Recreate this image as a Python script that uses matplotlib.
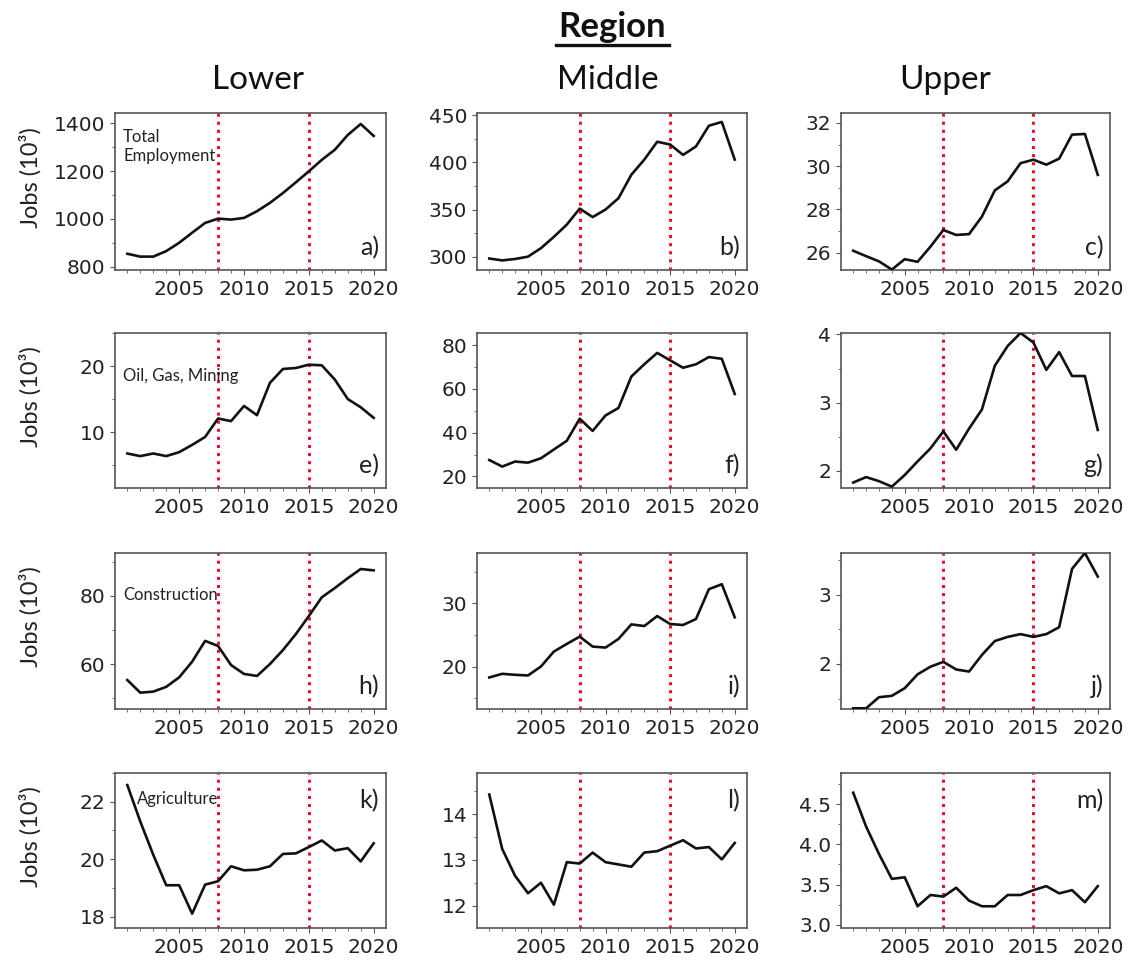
import matplotlib
matplotlib.use('Agg')
import matplotlib.pyplot as plt
from matplotlib.ticker import AutoMinorLocator, MultipleLocator

years = list(range(2001, 2021))

lower_total = [854, 842, 842, 865, 900, 942, 983, 1001, 997, 1004, 1032, 1067, 1108, 1153, 1199, 1247, 1289, 1351, 1397, 1347]
middle_total = [298, 296, 297.5, 300, 309, 321, 334, 351, 342, 350, 362, 387, 403, 422, 419, 408, 417, 439, 443, 403]
upper_total = [26.09, 25.84, 25.6, 25.22, 25.7, 25.58, 26.28, 27.05, 26.82, 26.86, 27.67, 28.88, 29.3, 30.14, 30.3, 30.07, 30.35, 31.46, 31.49, 29.6]
lower_oil = [6.8, 6.4, 6.8, 6.4, 7.0, 8.1, 9.3, 12.1, 11.7, 14.0, 12.6, 17.5, 19.6, 19.75, 20.25, 20.15, 18.0, 15.05, 13.8, 12.2]
middle_oil = [27.5, 24.5, 26.8, 26.3, 28.3, 32.3, 36.3, 46.4, 40.8, 47.9, 51.3, 65.7, 71.3, 76.5, 73.1, 69.7, 71.3, 74.6, 73.8, 57.7]
upper_oil = [1.83, 1.91, 1.85, 1.77, 1.94, 2.14, 2.33, 2.58, 2.31, 2.62, 2.90, 3.54, 3.83, 4.02, 3.88, 3.48, 3.74, 3.39, 3.39, 2.60]
lower_cons = [55.3, 51.6, 51.9, 53.3, 56.1, 60.7, 66.8, 65.3, 59.7, 57.1, 56.5, 60.0, 64.1, 68.8, 74.1, 79.6, 82.3, 85.2, 87.9, 87.5]
middle_cons = [18.26, 18.84, 18.68, 18.58, 20.0, 22.37, 23.58, 24.74, 23.16, 23.0, 24.37, 26.68, 26.42, 28.0, 26.74, 26.58, 27.53, 32.26, 33.05, 27.8]
upper_cons = [1.36, 1.36, 1.52, 1.54, 1.65, 1.85, 1.96, 2.03, 1.92, 1.89, 2.13, 2.33, 2.39, 2.43, 2.39, 2.43, 2.53, 3.37, 3.6, 3.26]
lower_ag = [22.58, 21.31, 20.15, 19.09, 19.09, 18.1, 19.11, 19.23, 19.75, 19.61, 19.63, 19.75, 20.18, 20.2, 20.42, 20.65, 20.3, 20.38, 19.92, 20.55]
middle_ag = [14.43, 13.24, 12.65, 12.27, 12.5, 12.02, 12.95, 12.92, 13.16, 12.95, 12.9, 12.85, 13.16, 13.19, 13.31, 13.43, 13.25, 13.28, 13.01, 13.37]
upper_ag = [4.64, 4.22, 3.88, 3.57, 3.59, 3.23, 3.37, 3.35, 3.46, 3.30, 3.23, 3.23, 3.37, 3.37, 3.43, 3.48, 3.39, 3.43, 3.28, 3.48]

regions = ["Lower", "Middle", "Upper"]
sectors = ["Total\nEmployment", "Oil, Gas, Mining", "Construction", "Agriculture"]
panel_labels = [["a)", "b)", "c)"], ["e)", "f)", "g)"], ["h)", "i)", "j)"], ["k)", "l)", "m)"]]
series = [[lower_total, middle_total, upper_total],
          [lower_oil, middle_oil, upper_oil],
          [lower_cons, middle_cons, upper_cons],
          [lower_ag, middle_ag, upper_ag]]
yticks = [[[800, 1000, 1200, 1400], [300, 350, 400, 450], [26, 28, 30, 32]],
          [[10, 20], [20, 40, 60, 80], [2, 3, 4]],
          [[60, 80], [20, 30], [2, 3]],
          [[18, 20, 22], [12, 13, 14], [3.0, 3.5, 4.0, 4.5]]]
ylims = [[(786, 1443), (285.8, 452.5), (25.2, 32.46)],
         [(1.57, 25.05), (14.7, 85.6), (1.75, 4.02)],
         [(46.8, 92.6), (13.26, 38.0), (1.35, 3.6)],
         [(17.6, 23.0), (11.51, 14.9), (2.96, 4.885)]]
xticks = [2005, 2010, 2015, 2020]
event_years = [2008, 2015]
ylabel = "Jobs (10\u00b3)"
title = "Region"

W, H = 1132, 965
fig = plt.figure(figsize=(W / 100, H / 100), dpi=100)

col_px = [(115, 386), (477, 747), (841, 1110)]
row_px = [(113, 270), (333, 488), (553, 709), (773, 928)]
cfont = ['Lato', 'DejaVu Sans']

for r in range(4):
    for c in range(3):
        x0, x1 = col_px[c]
        y0, y1 = row_px[r]
        ax = fig.add_axes([x0 / W, 1 - y1 / H, (x1 - x0) / W, (y1 - y0) / H])
        ax.plot(years, series[r][c], color='#111111', lw=1.9, zorder=3)
        for ev in event_years:
            ax.axvline(ev, color='#e8102a', ls=':', lw=2.2, zorder=2)
        ax.set_xlim(2000.05, 2020.95)
        ax.set_ylim(*ylims[r][c])
        ax.set_xticks(xticks)
        ax.xaxis.set_minor_locator(MultipleLocator(1))
        ax.set_yticks(yticks[r][c])
        ax.yaxis.set_minor_locator(AutoMinorLocator(2))
        ax.tick_params(labelsize=14.5, colors='#222222')
        ax.tick_params(which='both', color='#555555')
        for sp in ax.spines.values():
            sp.set_color('#555555')
            sp.set_linewidth(1.2)
        if r < 3:
            ax.text(0.975, 0.07, panel_labels[r][c], transform=ax.transAxes,
                    ha='right', va='bottom', fontsize=18, family=cfont, color='#222222')
        else:
            ax.text(0.975, 0.90, panel_labels[r][c], transform=ax.transAxes,
                    ha='right', va='top', fontsize=18, family=cfont, color='#222222')
        if c == 0:
            if r == 0:
                ax.text(0.03, 0.9, sectors[r], transform=ax.transAxes, ha='left', va='top',
                        fontsize=12, family=cfont, color='#222222', linespacing=1.25)
            elif r == 3:
                ax.text(0.08, 0.83, sectors[r], transform=ax.transAxes, ha='left', va='center',
                        fontsize=12, family=cfont, color='#222222')
            else:
                ax.text(0.03, 0.72 if r == 1 else 0.73, sectors[r], transform=ax.transAxes,
                        ha='left', va='center', fontsize=12, family=cfont, color='#222222')
            yc = (y0 + y1) / 2 - 14
            fig.text(30 / W, 1 - yc / H, ylabel, rotation=90, ha='center', va='center',
                     fontsize=17, family=cfont, color='#222222')

title_x = [258, 608, 945]
for c in range(3):
    fig.text(title_x[c] / W, 1 - 80 / H, regions[c], ha='center', va='center',
             fontsize=24, family=cfont, color='#111111')

fig.text(612 / W, 1 - 27 / H, title, ha='center', va='center', fontsize=25,
         fontweight='bold', family=cfont, color='#111111')
fig.add_artist(plt.Line2D([556 / W, 669 / W], [1 - 45 / H, 1 - 45 / H], color='#111111', lw=2.4))

fig.savefig('out.png', dpi=100)
